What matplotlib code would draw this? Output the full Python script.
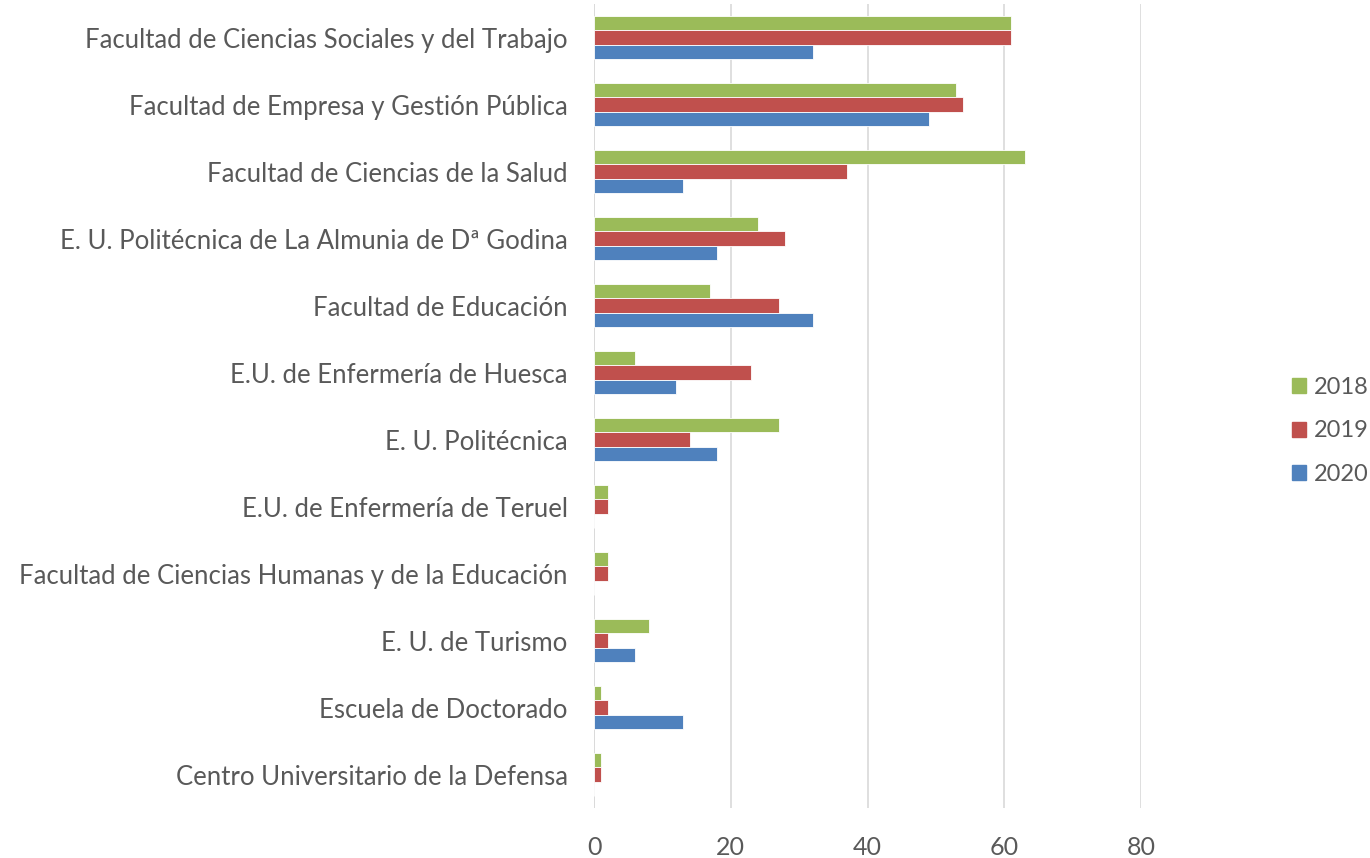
import numpy as np
import matplotlib
matplotlib.use('Agg')
import matplotlib.pyplot as plt
from matplotlib.patches import Patch

# categories, top to bottom as in the chart
centros = [
    'Facultad de Ciencias Sociales y del Trabajo',
    'Facultad de Empresa y Gestión Pública',
    'Facultad de Ciencias de la Salud',
    'E. U. Politécnica de La Almunia de Dª Godina',
    'Facultad de Educación',
    'E.U. de Enfermería de Huesca',
    'E. U. Politécnica',
    'E.U. de Enfermería de Teruel',
    'Facultad de Ciencias Humanas y de la Educación',
    'E. U. de Turismo',
    'Escuela de Doctorado',
    'Centro Universitario de la Defensa',
]
v2018 = [61, 53, 63, 24, 17, 6, 27, 2, 2, 8, 1, 1]
v2019 = [61, 54, 37, 28, 27, 23, 14, 2, 2, 2, 2, 1]
v2020 = [32, 49, 13, 18, 32, 12, 18, 0, 0, 6, 13, 0]

series = [('2018', v2018, '#9BBB59'), ('2019', v2019, '#C0504D'), ('2020', v2020, '#4F81BD')]

plt.rcParams['font.family'] = ['Lato', 'DejaVu Sans']
txt = '#595959'

fig = plt.figure(figsize=(13.7, 8.58), dpi=100)
ax = fig.add_axes([594 / 1370, 1 - 808 / 858, (1141 - 594) / 1370, (808 - 4) / 858])

y = np.arange(len(centros))
h = 0.21
for i, (name, vals, col) in enumerate(series):
    ax.barh(y + (i - 1) * h, vals, height=h, color=col, edgecolor='white',
            linewidth=0.6, label=name, zorder=3)

ax.set_ylim(len(centros) - 0.5, -0.5)
ax.set_xticks([0, 20, 40, 60, 80])
ax.set_yticks(y)
ax.set_yticklabels(centros, fontsize=18.5, color=txt)
ax.tick_params(axis='x', labelsize=18, colors=txt, length=0, pad=20)
ax.tick_params(axis='y', length=0, pad=19)
ax.grid(axis='x', color='#D9D9D9', linewidth=1.2, zorder=0)
for s in ax.spines.values():
    s.set_visible(False)
ax.axvline(0, color='#D9D9D9', linewidth=1.2, zorder=1)
ax.set_xlim(0, 80)

handles = [Patch(color=c, label=n) for n, _, c in series]
fig.legend(handles=handles, loc='center left', bbox_to_anchor=(1292 / 1370, 1 - 431 / 858),
           frameon=False, fontsize=17, labelcolor=txt, handlelength=0.6, handleheight=0.6,
           handletextpad=0.32, labelspacing=0.95, borderpad=0, borderaxespad=0)

fig.savefig('out.png', dpi=100, facecolor='white')
